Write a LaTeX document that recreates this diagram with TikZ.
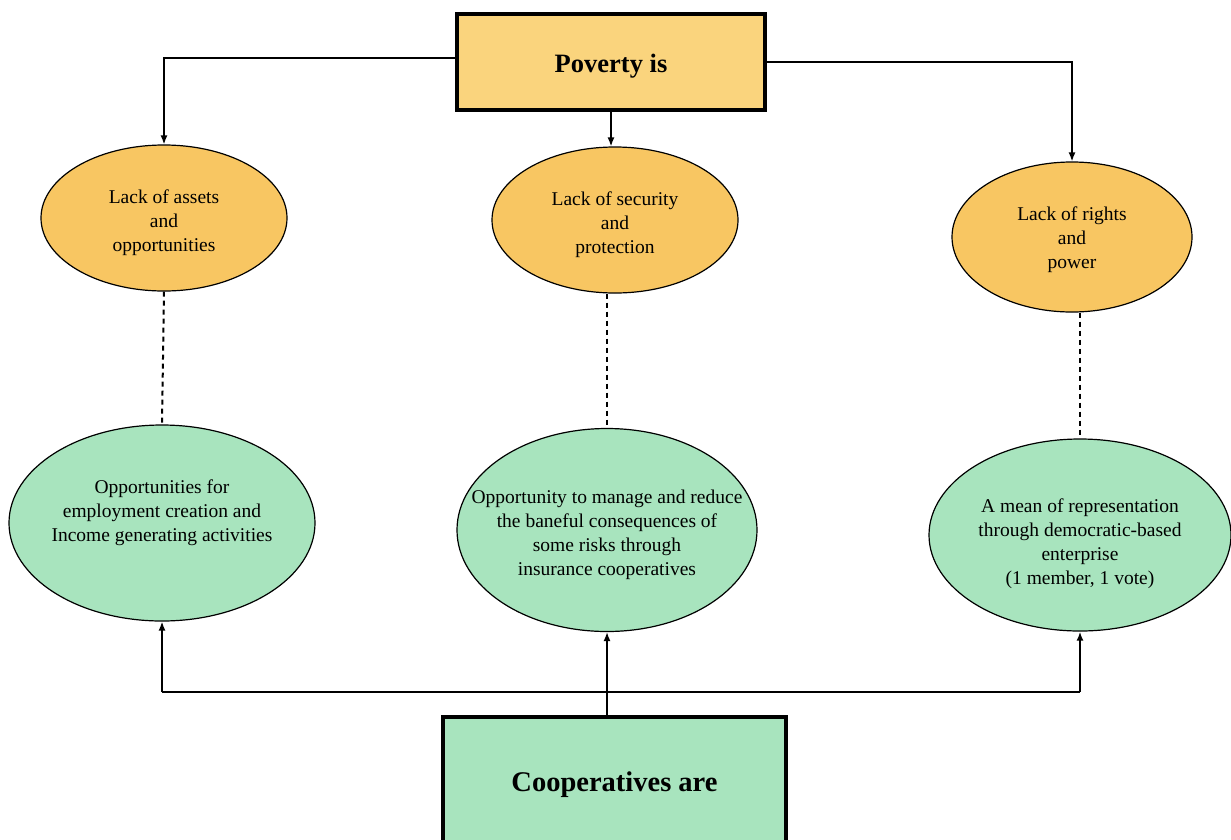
\documentclass[tikz,border=0pt]{standalone}
\usepackage{fontspec}
\setmainfont{Liberation Serif}
\usetikzlibrary{arrows.meta,shapes.geometric}
\definecolor{povfill}{RGB}{250,212,125}
\definecolor{orfill}{RGB}{248,198,98}
\definecolor{grfill}{RGB}{168,228,190}
\newcommand{\etext}[2]{\makebox[0pt]{\raisebox{#1}[0pt][0pt]{\begin{tabular}{@{}c@{}}#2\end{tabular}}}}
\tikzset{
  titlebox/.style={draw=black,line width=3.5pt,rectangle,inner sep=0pt},
  topell/.style={draw=black,line width=1.2pt,ellipse,fill=orfill,inner sep=0pt,font=\fontsize{19.5}{24}\selectfont},
  botell/.style={draw=black,line width=1.2pt,ellipse,fill=grfill,inner sep=0pt,font=\fontsize{19.5}{24}\selectfont},
  conn/.style={draw=black,line width=1.5pt},
  arr/.style={conn,-{Latex[length=9pt,width=7pt]}},
  dash line/.style={draw=black,line width=2pt,dash pattern=on 5pt off 4pt}
}
\begin{document}
\begin{tikzpicture}[x=1pt,y=-1pt]
\clip (0,0) rectangle (1231,839);
\fill[white] (0,0) rectangle (1231,839);
% boxes
\node[titlebox,fill=povfill,minimum width=308pt,minimum height=96pt,font=\fontsize{26.5}{30}\selectfont\bfseries] (pov) at (611,62) {\raisebox{-10pt}[0pt][0pt]{Poverty is}};
\node[titlebox,fill=grfill,minimum width=343pt,minimum height=136pt,font=\fontsize{28.5}{32}\selectfont\bfseries] (coop) at (614.5,785) {\raisebox{4pt}{Cooperatives are}};
% top ellipses
\node[topell,minimum width=246pt,minimum height=146pt] (e1) at (164,218) {\etext{-10pt}{Lack of assets\\and\\opportunities}};
\node[topell,minimum width=246pt,minimum height=146pt] (e2) at (615,220) {\etext{-10pt}{Lack of security\\and\\protection}};
\node[topell,minimum width=240pt,minimum height=150pt] (e3) at (1072,237) {\etext{-8pt}{Lack of rights\\and\\power}};
% bottom ellipses
\node[botell,minimum width=306pt,minimum height=196pt] (g1) at (162,523) {\etext{5pt}{Opportunities for\\employment creation and\\Income generating activities}};
\node[botell,minimum width=300pt,minimum height=203pt] (g2) at (607,530) {\etext{-10pt}{Opportunity to manage and reduce\\the baneful consequences of\\some risks through\\insurance cooperatives}};
\node[botell,minimum width=302pt,minimum height=192pt] (g3) at (1080,535) {\etext{-13.5pt}{A mean of representation\\through democratic-based\\enterprise\\(1 member, 1 vote)}};
% connectors from Poverty
\draw[arr] (pov.west) ++(0,-4) -| (e1.north);
\draw[arr] (pov.south) -- (pov.south |- e2.north);
\draw[arr] (pov.east) -| (e3.north);
% dashed links
\draw[dash line] (e1.south) -- (g1.north);
\draw[dash line] (e2.south -| g2.north) -- (g2.north);
\draw[dash line] (g3.north |- e3.south) -- (g3.north);
% from Cooperatives
\coordinate (bus) at (608,692);
\draw[conn] (g1.south |- bus) -- (g3.south |- bus);
\draw[arr] (coop.north -| g2.south) -- (g2.south);
\draw[arr] (g1.south |- bus) -- (g1.south);
\draw[arr,line width=2.5pt] (g3.south |- bus) -- (g3.south);
\end{tikzpicture}
\end{document}
